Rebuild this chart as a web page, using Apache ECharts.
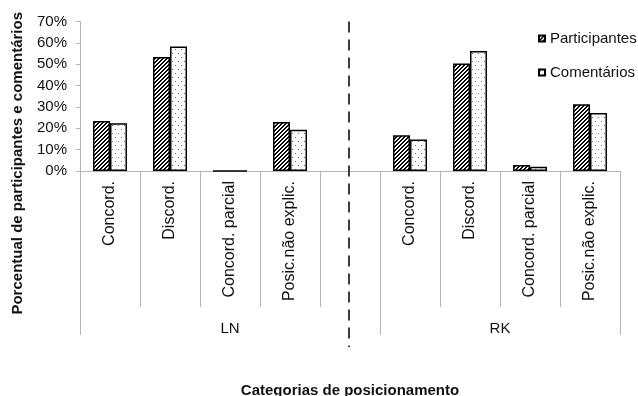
<!DOCTYPE html>
<html>
<head>
<meta charset="utf-8">
<script src="https://cdn.jsdelivr.net/npm/echarts@6.0.0/dist/echarts.min.js"></script>
<style>
  html, body { margin: 0; padding: 0; background: #fff; }
  #chart { width: 638px; height: 396px; }
</style>
</head>
<body>
<div id="chart"></div>
<script>
// categorias (a vazia separa LN de RK)
const categories = ['Concord.', 'Discord.', 'Concord. parcial', 'Posic.não explic.', '',
                    'Concord.', 'Discord.', 'Concord. parcial', 'Posic.não explic.'];
const participantes = [23.4, 53.4, 0, 22.9, null, 16.7, 50.3, 2.8, 31.2];
const comentarios   = [22.3, 58.3, 0, 19.3, null, 14.8, 56.2, 2.0, 27.1];
const groups = ['LN', 'RK'];
const groupSizes = [5, 4];          // categorias por grupo
const gapIndex = 4;                 // categoria vazia onde fica a linha tracejada
const yMax = 70;
const yStep = 10;

const FONT = 'Liberation Sans, Arial, sans-serif';
const AXIS_GRAY = '#b4b4b4';

// padrões de preenchimento (hachura e pontilhado)
function stripePattern() {
    const c = document.createElement('canvas');
    c.width = 8; c.height = 8;
    const ctx = c.getContext('2d');
    ctx.fillStyle = '#fff';
    ctx.fillRect(0, 0, 8, 8);
    ctx.fillStyle = '#000';
    for (let x = 0; x < 8; x++) {
        for (let y = 0; y < 8; y++) {
            if ((x + y) % 4 < 2) ctx.fillRect(x, y, 1, 1);
        }
    }
    return { image: c, repeat: 'repeat' };
}

function dotPattern() {
    const c = document.createElement('canvas');
    c.width = 6; c.height = 8;
    const ctx = c.getContext('2d');
    ctx.fillStyle = '#fff';
    ctx.fillRect(0, 0, 6, 8);
    ctx.fillStyle = '#6a6a6a';
    ctx.fillRect(1, 1, 1, 1);
    ctx.fillRect(4, 5, 1, 1);
    return { image: c, repeat: 'repeat' };
}

// eixo dos grupos: meias-categorias, sem boundaryGap
const halfCount = categories.length * 2;
const groupData = new Array(halfCount + 1).fill('');
const groupBounds = [0];
let acc = 0;
groups.forEach(function (g, i) {
    groupData[acc + groupSizes[i]] = g;
    acc += groupSizes[i] * 2;
    groupBounds.push(acc);
});

const chart = echarts.init(document.getElementById('chart'));

const option = {
    animation: false,
    textStyle: { fontFamily: FONT },
    grid: {
        left: 80, right: 18, top: 21.5, bottom: 225,
        containLabel: false,
        outerBoundsMode: 'none'
    },
    legend: {
        orient: 'vertical',
        left: 533,
        top: 26,
        itemWidth: 6,
        itemHeight: 6,
        itemGap: 19,
        icon: 'rect',
        textStyle: { fontSize: 15, color: '#111', fontFamily: FONT },
        data: ['Participantes', 'Comentários']
    },
    xAxis: [
        {
            type: 'category',
            data: categories,
            position: 'bottom',
            axisLine: { lineStyle: { color: AXIS_GRAY, width: 1 } },
            axisTick: { show: true, interval: 0, length: 136, lineStyle: { color: AXIS_GRAY } },
            axisLabel: { interval: 0, rotate: 90, margin: 10, fontSize: 16, color: '#111', fontFamily: FONT },
            name: 'Categorias de posicionamento',
            nameLocation: 'middle',
            nameGap: 212,
            nameTextStyle: { fontSize: 15, fontWeight: 'bold', color: '#111', fontFamily: FONT }
        },
        {
            type: 'category',
            data: groupData,
            boundaryGap: false,
            position: 'bottom',
            offset: 0,
            axisLine: { show: false },
            axisTick: {
                show: true,
                length: 164,
                interval: function (i) { return groupBounds.indexOf(i) >= 0; },
                lineStyle: { color: AXIS_GRAY }
            },
            axisLabel: { interval: 0, margin: 150, fontSize: 15, color: '#111', fontFamily: FONT }
        }
    ],
    yAxis: {
        type: 'value',
        min: 0,
        max: yMax,
        interval: yStep,
        axisLine: { show: true, lineStyle: { color: AXIS_GRAY } },
        axisTick: { show: true, length: 4, lineStyle: { color: AXIS_GRAY } },
        splitLine: { show: false },
        axisLabel: { formatter: '{value}%', fontSize: 15, margin: 13, color: '#111', fontFamily: FONT },
        name: 'Porcentual de participantes e comentários',
        nameLocation: 'middle',
        nameRotate: 90,
        nameGap: 55,
        nameTextStyle: {
            fontSize: 15, fontWeight: 'bold', color: '#111', fontFamily: FONT,
            padding: [0, 134, 0, 0]
        }
    },
    series: [
        {
            name: 'Participantes',
            type: 'bar',
            data: participantes,
            barWidth: 17,
            barGap: '0%',
            itemStyle: { color: stripePattern(), borderColor: '#000', borderWidth: 1.5 }
        },
        {
            name: 'Comentários',
            type: 'bar',
            data: comentarios,
            barWidth: 17,
            barGap: '0%',
            itemStyle: { color: dotPattern(), borderColor: '#000', borderWidth: 1.5 }
        }
    ]
};

chart.setOption(option);

// linha tracejada vertical separando LN e RK
const yTopPx = chart.convertToPixel({ yAxisIndex: 0 }, yMax);
const yBasePx = chart.convertToPixel({ yAxisIndex: 0 }, 0);
const xSepPx = chart.convertToPixel({ xAxisIndex: 0 }, gapIndex) - 1;
chart.setOption({
    graphic: [{
        type: 'line',
        shape: { x1: xSepPx, y1: yTopPx, x2: xSepPx, y2: yBasePx + 176 },
        style: { stroke: '#3c3c3c', lineWidth: 2, lineDash: [11, 7] },
        z: 10
    }]
});
</script>
</body>
</html>
